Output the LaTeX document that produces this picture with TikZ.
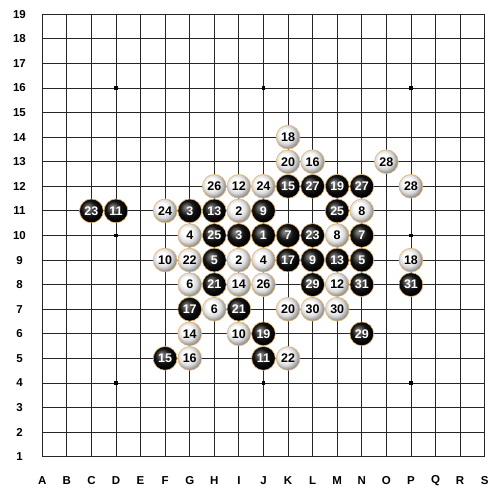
\documentclass[tikz,border=0pt]{standalone}
\usepackage{fontspec}
\setmainfont{Liberation Sans}
\pgfdeclareradialshading{wstone}{\pgfqpoint{-8bp}{8bp}}{color(0bp)=(white); color(10bp)=(white); color(19bp)=(black!14); color(28bp)=(black!48); color(50bp)=(black!48)}
\pgfdeclareradialshading{bstone}{\pgfqpoint{-8bp}{8bp}}{color(0bp)=(black!45); color(4bp)=(black!55); color(15bp)=(black!92); color(25bp)=(black); color(50bp)=(black)}
\definecolor{rim}{RGB}{228,185,120}
\tikzset{
  gridline/.style={line width=0.8pt, black!85},
  hoshi/.style={rectangle, fill=black, minimum size=3.2pt, inner sep=0pt},
  stone/.style={circle, minimum size=23.8pt, inner sep=0pt, draw=rim, line width=0.6pt, font=\bfseries\fontsize{12.5}{12.5}\selectfont},
  bst/.style={stone, shade, shading=bstone, text=white},
  wst/.style={stone, shade, shading=wstone, text=black},
  coordlabel/.style={font=\bfseries\fontsize{11.5}{11.5}\selectfont, inner sep=0pt},
}
\begin{document}
\begin{tikzpicture}[x=1pt,y=-1pt]
\useasboundingbox (0,0) rectangle (488,493);
\fill[white] (0,0) rectangle (488,493);
% column and row coordinates
\foreach \l [count=\i from 0] in {A,B,C,D,E,F,G,H,I,J,K,L,M,N,O,P,Q,R,S}{
  \coordinate (c\l) at ({42.25+\i*24.58},0);
  \node[coordlabel] (lab\l) at ({42.25+\i*24.58},481) {\l};
}
\foreach \r in {1,...,19}{
  \coordinate (r\r) at (0,{14.25+(19-\r)*24.58});
  \node[coordlabel] (labr\r) at (19.5,{14.25+(19-\r)*24.58}) {\r};
}
% grid
\foreach \i in {0,...,18}{
  \draw[gridline] ({42.25+\i*24.58},14.25) -- ({42.25+\i*24.58},456.69);
  \draw[gridline] (42.25,{14.25+\i*24.58}) -- (484.69,{14.25+\i*24.58});
}
% star points
\foreach \c in {D,J,P}{
  \foreach \r in {4,10,16}{
    \node[hoshi] (h\c\r) at (c\c |- r\r) {};
  }
}
% white stones
\foreach \c/\r/\n in {K/14/18, K/13/20, L/13/16, O/13/28, H/12/26, I/12/12, J/12/24, P/12/28,
  F/11/24, I/11/2, N/11/8, G/10/4, M/10/8, F/9/10, G/9/22, I/9/2, J/9/4, P/9/18,
  G/8/6, I/8/14, J/8/26, M/8/12, H/7/6, K/7/20, L/7/30, M/7/30, G/6/14, I/6/10,
  G/5/16, K/5/22}{
  \node[wst] (s\c\r) at (c\c |- r\r) {\n};
}
% black stones
\foreach \c/\r/\n in {K/12/15, L/12/27, M/12/19, N/12/27, C/11/23, D/11/11, G/11/3, H/11/13,
  J/11/9, M/11/25, H/10/25, I/10/3, J/10/1, K/10/7, L/10/23, N/10/7, H/9/5, K/9/17,
  L/9/9, M/9/13, N/9/5, H/8/21, L/8/29, N/8/31, P/8/31, G/7/17, I/7/21, J/6/19,
  N/6/29, F/5/15, J/5/11}{
  \node[bst] (s\c\r) at (c\c |- r\r) {\n};
}
\end{tikzpicture}
\end{document}
